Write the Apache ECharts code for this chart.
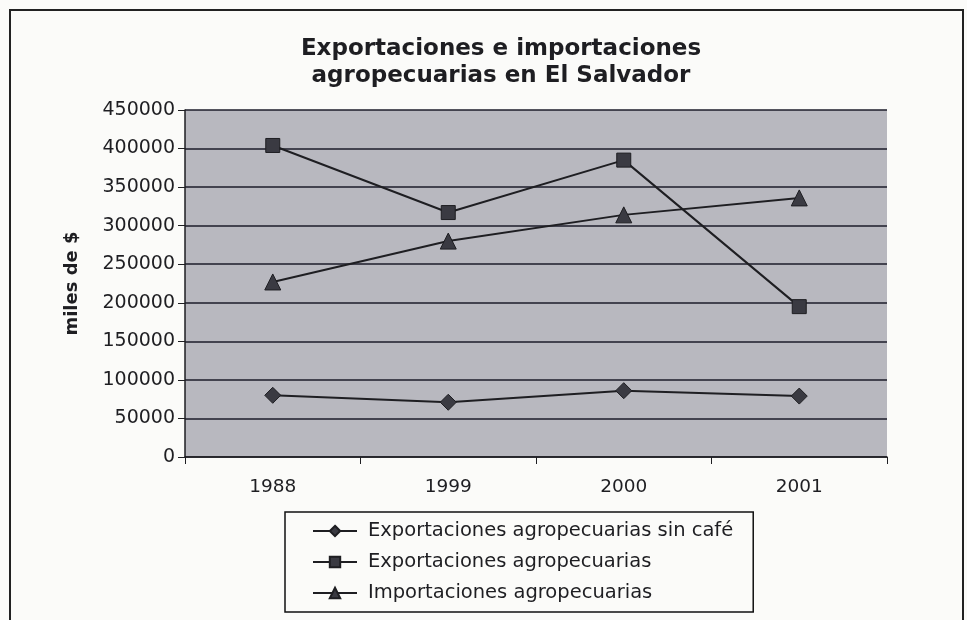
<!DOCTYPE html>
<html>
<head>
<meta charset="utf-8">
<script src="https://cdn.jsdelivr.net/npm/echarts@6/dist/echarts.min.js"></script>
<style>
  html, body { margin: 0; padding: 0; background: #fbfbf9; }
  #main { width: 967px; height: 620px; }
</style>
</head>
<body>
<div id="main"></div>
<script>
// datos
const years = ['1988', '1999', '2000', '2001'];
const sinCafe = [80000, 71000, 86000, 79000];
const exportaciones = [404000, 317000, 385000, 195000];
const importaciones = [227000, 280000, 314000, 336000];
const seriesNames = [
  'Exportaciones agropecuarias sin café',
  'Exportaciones agropecuarias',
  'Importaciones agropecuarias'
];

const chart = echarts.init(document.getElementById('main'));
const font = 'DejaVu Sans, Arial, sans-serif';
const ink = '#1e1e22';

function lineSeries(name, data, symbol, size) {
  return {
    name: name,
    type: 'line',
    data: data,
    symbol: symbol,
    symbolSize: size,
    lineStyle: { color: ink, width: 2 },
    itemStyle: { color: '#3a3a42', borderColor: ink, borderWidth: 1 }
  };
}

chart.setOption({
  backgroundColor: '#fbfbf9',
  animation: false,
  textStyle: { fontFamily: font },
  title: {
    text: 'Exportaciones e importaciones\nagropecuarias en El Salvador',
    left: 496,
    textAlign: 'center',
    top: 31,
    textStyle: { fontSize: 23, fontWeight: 'bold', color: ink, lineHeight: 27, fontFamily: font }
  },
  graphic: [{
    type: 'rect',
    shape: { x: 10, y: 10, width: 953, height: 615 },
    style: { fill: 'none', stroke: '#222', lineWidth: 2 },
    silent: true
  }],
  grid: { left: 185, right: 80, top: 110, bottom: 163, backgroundColor: '#b8b8bf', show: true, borderWidth: 0 },
  legend: {
    orient: 'vertical',
    left: 285,
    top: 512,
    padding: [9, 20, 9, 27],
    itemGap: 11,
    itemWidth: 44,
    itemHeight: 13,
    borderColor: '#111',
    borderWidth: 1.5,
    backgroundColor: '#fbfbf9',
    textStyle: { fontSize: 19.5, color: ink, fontFamily: font, padding: [0, 0, 0, 6] },
    data: seriesNames
  },
  xAxis: {
    type: 'category',
    data: years,
    boundaryGap: true,
    axisLine: { lineStyle: { color: ink, width: 1.5 } },
    axisTick: { show: true, length: 7, inside: false, lineStyle: { color: ink } },
    axisLabel: { fontSize: 18.5, color: ink, margin: 21, fontFamily: font },
    splitLine: { show: false }
  },
  yAxis: {
    type: 'value',
    min: 0,
    max: 450000,
    interval: 50000,
    name: 'miles de $',
    nameLocation: 'middle',
    nameGap: 104,
    nameRotate: 90,
    nameTextStyle: { fontSize: 18, fontWeight: 'bold', color: ink, fontFamily: font },
    axisLine: { show: true, lineStyle: { color: ink, width: 1.5 } },
    axisTick: { show: true, length: 7, lineStyle: { color: ink } },
    axisLabel: { fontSize: 19, color: ink, margin: 10, fontFamily: font, formatter: (v) => String(v) },
    splitLine: { show: true, lineStyle: { color: '#1c1c2a', width: 1.5 } }
  },
  series: [
    lineSeries(seriesNames[0], sinCafe, 'diamond', 16),
    lineSeries(seriesNames[1], exportaciones, 'rect', 14),
    lineSeries(seriesNames[2], importaciones, 'triangle', 16)
  ]
});
</script>
</body>
</html>
